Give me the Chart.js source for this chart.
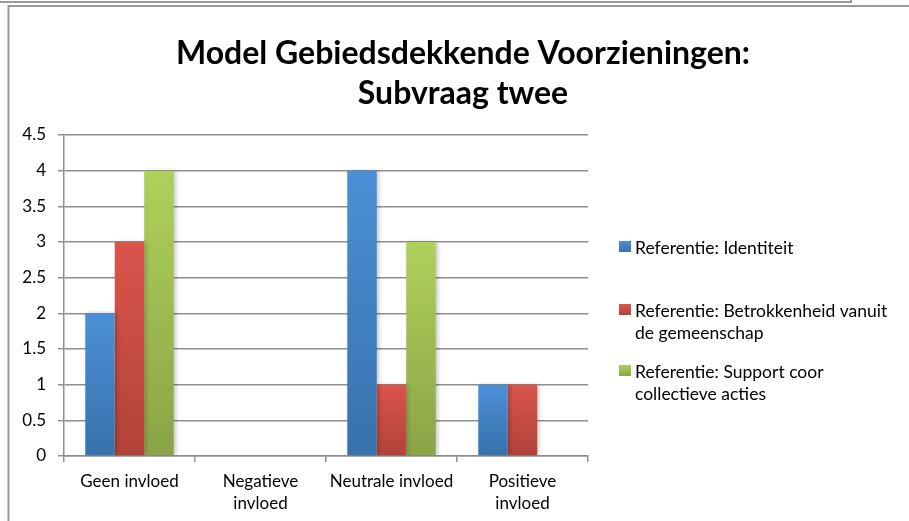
<!DOCTYPE html>
<html lang="nl">
<head>
<meta charset="UTF-8">
<title>Model Gebiedsdekkende Voorzieningen</title>
<script src="https://cdn.jsdelivr.net/npm/chart.js@4.4.1/dist/chart.umd.min.js"></script>
<style>
    html, body { margin: 0; padding: 0; background: #fff; }
    #grafiek { display: block; }
</style>
</head>
<body>
<canvas id="grafiek" width="909" height="521"></canvas>
<script>
    // data
    const categorieen = ['Geen invloed', ['Negatieve', 'invloed'], 'Neutrale invloed', ['Positieve', 'invloed']];
    const identiteit = [2, 0, 4, 1];
    const betrokkenheid = [3, 0, 1, 1];
    const support = [4, 0, 3, 0];
    const reeksNamen = [
        ['Referentie: Identiteit'],
        ['Referentie: Betrokkenheid vanuit', 'de gemeenschap'],
        ['Referentie: Support coor', 'collectieve acties']
    ];
    const yLabels = ['0', '0.5', '1', '1.5', '2', '2.5', '3', '3.5', '4', '4.5'];
    const titel = ['Model Gebiedsdekkende Voorzieningen:', 'Subvraag twee'];

    const kleuren = [
        { top: '#4b90d7', bodem: '#3871ab', vlak: '#4280c4' },
        { top: '#da544c', bodem: '#b2433a', vlak: '#c94b43' },
        { top: '#afd05b', bodem: '#8aa446', vlak: '#9dbb51' }
    ];

    const FONT = 'Lato, "Open Sans", sans-serif';

    function verloop(i) {
        return function (ctx) {
            const chart = ctx.chart;
            const y = chart.scales.y;
            if (!chart.chartArea || !y || ctx.parsed === undefined) return kleuren[i].vlak;
            const top = y.getPixelForValue(ctx.parsed.y);
            const bodem = y.getPixelForValue(0);
            if (!(bodem - top > 1)) return kleuren[i].vlak;
            const g = chart.ctx.createLinearGradient(0, top, 0, bodem);
            g.addColorStop(0, kleuren[i].top);
            g.addColorStop(1, kleuren[i].bodem);
            return g;
        };
    }

    // kader rond de grafiek + witte achtergrond
    const kader = {
        id: 'kader',
        beforeDraw(chart) {
            const c = chart.ctx;
            c.save();
            c.fillStyle = '#fff';
            c.fillRect(0, 0, chart.width, chart.height);
            c.strokeStyle = '#9a9a9a';
            c.lineWidth = 2;
            c.beginPath();
            c.moveTo(0, 2); c.lineTo(851, 2); c.lineTo(851, 0);
            c.stroke();
            c.beginPath();
            c.moveTo(8.5, chart.height); c.lineTo(8.5, 6); c.lineTo(chart.width, 6);
            c.stroke();
            c.restore();
        }
    };

    // schaduw achter de staven
    const schaduw = {
        id: 'schaduw',
        beforeDatasetsDraw(chart) {
            const c = chart.ctx;
            c.save();
            c.shadowColor = 'rgba(0,0,0,0.22)';
            c.shadowBlur = 4;
            c.shadowOffsetX = 2;
            c.shadowOffsetY = 0;
        },
        afterDatasetsDraw(chart) {
            chart.ctx.restore();
        }
    };

    // legenda met afgebroken regels
    const legenda = {
        id: 'legenda',
        afterDraw(chart) {
            const c = chart.ctx;
            const startY = [248, 311, 372];
            c.save();
            c.font = '17.5px ' + FONT;
            c.textBaseline = 'middle';
            c.textAlign = 'left';
            chart.data.datasets.forEach(function (ds, i) {
                const y0 = startY[i];
                const g = c.createLinearGradient(0, y0 - 7, 0, y0 + 4);
                g.addColorStop(0, kleuren[i].top);
                g.addColorStop(1, kleuren[i].bodem);
                c.fillStyle = g;
                c.fillRect(619, y0 - 7, 12, 11);
                c.fillStyle = '#000';
                ds.label.forEach(function (regel, j) {
                    c.fillText(regel, 635, y0 + j * 22);
                });
            });
            c.restore();
        }
    };

    new Chart(document.getElementById('grafiek'), {
        type: 'bar',
        data: {
            labels: categorieen,
            datasets: [
                { label: reeksNamen[0], data: identiteit, backgroundColor: verloop(0) },
                { label: reeksNamen[1], data: betrokkenheid, backgroundColor: verloop(1) },
                { label: reeksNamen[2], data: support, backgroundColor: verloop(2) }
            ]
        },
        options: {
            responsive: false,
            devicePixelRatio: 1,
            animation: false,
            layout: { padding: { top: 34, left: 17, right: 0, bottom: 4 } },
            datasets: {
                bar: { categoryPercentage: 0.675, barPercentage: 1, borderWidth: 0 }
            },
            plugins: {
                legend: { display: false },
                tooltip: { enabled: false },
                title: {
                    display: true,
                    text: titel,
                    color: '#000',
                    font: { family: FONT, size: 32, weight: 'bold', lineHeight: 1.25 },
                    padding: { top: 0, bottom: 21 }
                }
            },
            scales: {
                x: {
                    grid: { offset: true, drawOnChartArea: false, color: '#8f8f8f', lineWidth: 1.5, tickLength: 6 },
                    border: { color: '#8f8f8f', width: 1.5 },
                    ticks: {
                        color: '#000', font: { family: FONT, size: 17, lineHeight: 1.3 },
                        maxRotation: 0, autoSkip: false, padding: 8
                    },
                    afterFit(scale) { scale.height = 61; }
                },
                y: {
                    min: 0, max: 4.5,
                    grid: { color: '#8f8f8f', lineWidth: 1.5, tickLength: 6 },
                    border: { color: '#8f8f8f', width: 1.5 },
                    ticks: {
                        stepSize: 0.5, color: '#000', padding: 12,
                        font: { family: FONT, size: 17 },
                        callback: function (v, i) { return yLabels[i]; }
                    },
                    afterFit(scale) { scale.width = 47; }
                },
                ruimte: {
                    position: 'right',
                    display: true,
                    grid: { display: false, drawTicks: false },
                    border: { display: false },
                    ticks: { display: false },
                    afterFit(scale) { scale.width = 321; }
                }
            }
        },
        plugins: [kader, schaduw, legenda]
    });
</script>
</body>
</html>
